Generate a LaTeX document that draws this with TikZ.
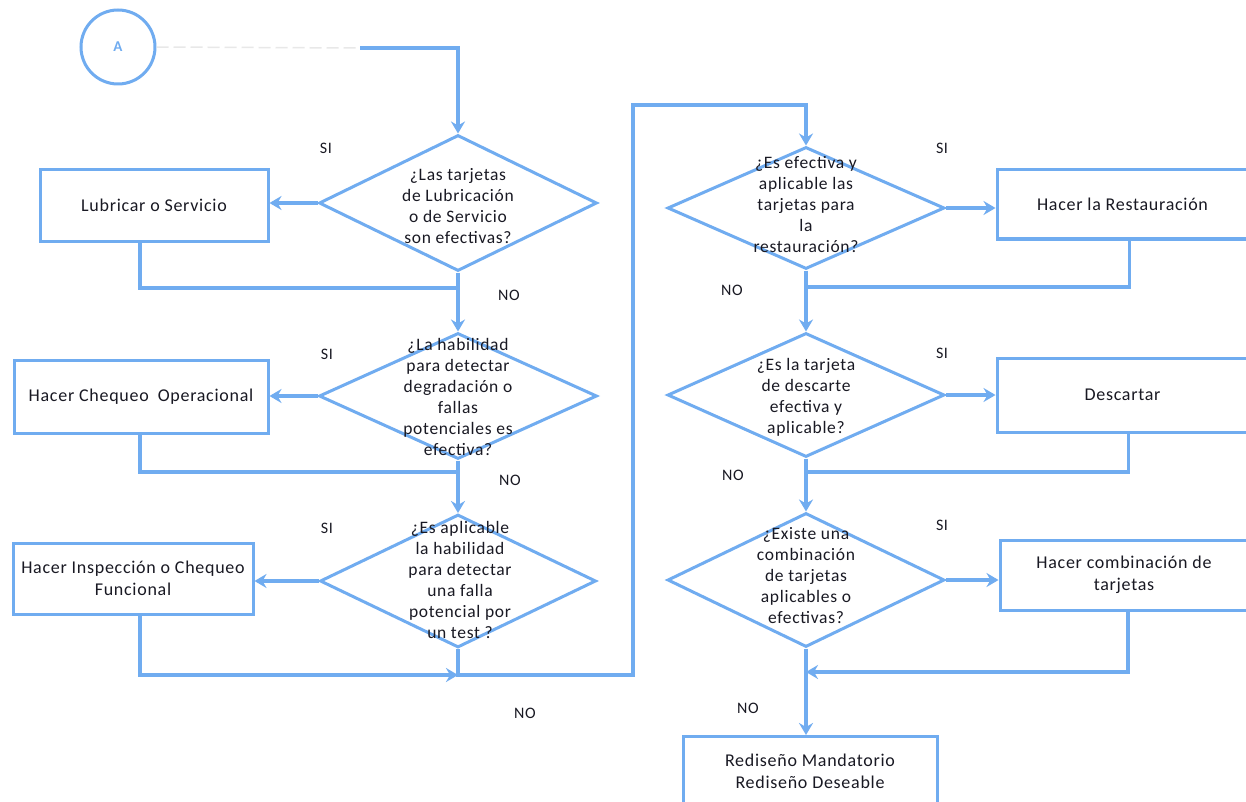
\documentclass[tikz,border=0pt]{standalone}
\usepackage{fontspec}
\setmainfont{Carlito}[LetterSpace=4]
\usetikzlibrary{shapes.geometric,arrows.meta}
\definecolor{fb}{RGB}{112,172,240}
\definecolor{tx}{RGB}{25,25,35}
\begin{document}
\begin{tikzpicture}[x=1pt,y=-1pt,
  conn/.style={draw=fb, line width=3.5pt},
  arr/.style={conn,-{Stealth[length=12pt,width=14pt,inset=4pt]}},
  box/.style={draw=fb, line width=3pt, rectangle, inner sep=0pt, font=\fontsize{18}{21.5}\selectfont, text=tx, align=center},
  dia/.style={draw=fb, line width=3pt, diamond, inner sep=0pt},
  dtext/.style={font=\fontsize{17.5}{21}\selectfont, text=tx, align=center, inner sep=0pt},
  lab/.style={font=\fontsize{16}{18}\selectfont, text=tx},
  circ/.style={draw=fb, line width=3pt, circle, minimum size=74pt, inner sep=0pt, text=fb, font=\fontsize{15}{18}\selectfont\bfseries}]
\useasboundingbox (0,0) rectangle (1246,802);
\fill[white] (0,0) rectangle (1246,802);

% start circle
\node[circ] (A) at (118,47) {A};
\coordinate (c0) at (360,48);

% left column diamonds
\node[dia, minimum width=278pt, minimum height=136pt] (d1) at (458,203) {};
\node[dtext] (d1t) at (458,206) {¿Las tarjetas\\de Lubricación\\o de Servicio\\son efectivas?};
\node[dia, minimum width=278pt, minimum height=126pt] (d2) at (458,396) {};
\node[dtext] (d2t) at (458,397) {¿La habilidad\\para detectar\\degradación o\\fallas\\potenciales es\\efectiva?};
\node[dia, minimum width=276pt, minimum height=133pt] (d3) at (458,581) {};
\node[dtext] (d3t) at (460,580) {¿Es aplicable\\la habilidad\\para detectar\\una falla\\potencial por\\un test ?};

% left column boxes
\node[box, minimum width=228pt, minimum height=71pt] (b1) at (154,205.5) {Lubricar o Servicio};
\node[box, minimum width=254pt, minimum height=73pt] (b2) at (141,396.5) {Hacer Chequeo\enspace Operacional};
\node[box, minimum width=240pt, minimum height=71pt] (b3) at (133,578.5) {Hacer Inspección o Chequeo\\Funcional};

% right column diamonds
\node[dia, minimum width=277pt, minimum height=122pt] (d4) at (806,208) {};
\node[dtext] (d4t) at (806,205) {¿Es efectiva y\\aplicable las\\tarjetas para\\la\\restauración?};
\node[dia, minimum width=277pt, minimum height=124pt] (d5) at (806,395) {};
\node[dtext] (d5t) at (806,397) {¿Es la tarjeta\\de descarte\\efectiva y\\aplicable?};
\node[dia, minimum width=277pt, minimum height=134pt] (d6) at (806,580) {};
\node[dtext] (d6t) at (806,576) {¿Existe una\\combinación\\de tarjetas\\aplicables o\\efectivas?};

% right column boxes
\node[box, minimum width=251pt, minimum height=69pt] (b4) at (1122.5,204.5) {Hacer la Restauración};
\node[box, minimum width=251pt, minimum height=74pt] (b5) at (1122.5,395) {Descartar};
\node[box, minimum width=248pt, minimum height=70pt] (b6) at (1124,575) {Hacer combinación de\\tarjetas};
\node[box, minimum width=254pt, minimum height=70pt, anchor=north] (b7) at (810,735) {Rediseño Mandatorio\\Rediseño Deseable};

% merge points
\coordinate (m1) at (458,288);
\coordinate (m2) at (458,472);
\coordinate (m3) at (458,675);
\coordinate (u1) at (633,675);
\coordinate (u2) at (633,105);
\coordinate (m4) at (806,287);
\coordinate (m5) at (806,472);
\coordinate (m6) at (806,672);

% connectors
\draw[draw=gray!18, line width=1.5pt, dash pattern=on 12pt off 5pt] (A.east) -- (c0);
\draw[arr] (c0) -| (d1.north);
\draw[arr] (d1.west) -- (d1.west -| b1.east);
\draw[conn] ([xshift=-14pt]b1.south) |- (m1);
\draw[arr] (d1.south) -- (d2.north);
\draw[arr] (d2.west) -- (d2.west -| b2.east);
\draw[conn] ([xshift=-1pt]b2.south) |- (m2);
\draw[arr] (d2.south) -- (d3.north);
\draw[arr] (d3.west) -- (d3.west -| b3.east);
\draw[arr] ([xshift=7pt]b3.south) |- (m3);
\draw[arr] (d3.south) -- (m3) -- (u1) -- (u2) -| (d4.north);
\draw[arr] (d4.east) -- (d4.east -| b4.west);
\draw[conn] ([xshift=7pt]b4.south) |- (m4);
\draw[arr] (d4.south) -- (d5.north);
\draw[arr] (d5.east) -- (d5.east -| b5.west);
\draw[conn] ([xshift=6pt]b5.south) |- (m5);
\draw[arr] (d5.south) -- (d6.north);
\draw[arr] (d6.east) -- (d6.east -| b6.west);
\draw[arr] ([xshift=4pt]b6.south) |- (m6);
\draw[arr] (d6.south) -- (b7.north -| d6.south);

% labels
\node[lab] (s1) at (326,148) {SI};
\node[lab] (n1) at (509,295) {NO};
\node[lab] (s2) at (327,354) {SI};
\node[lab] (n2) at (510,480) {NO};
\node[lab] (s3) at (327,528) {SI};
\node[lab] (n3) at (525,713) {NO};
\node[lab] (s4) at (942,148) {SI};
\node[lab] (n4) at (732,290) {NO};
\node[lab] (s5) at (942,353) {SI};
\node[lab] (n5) at (733,475) {NO};
\node[lab] (s6) at (942,525) {SI};
\node[lab] (n6) at (748,708) {NO};
\end{tikzpicture}
\end{document}
